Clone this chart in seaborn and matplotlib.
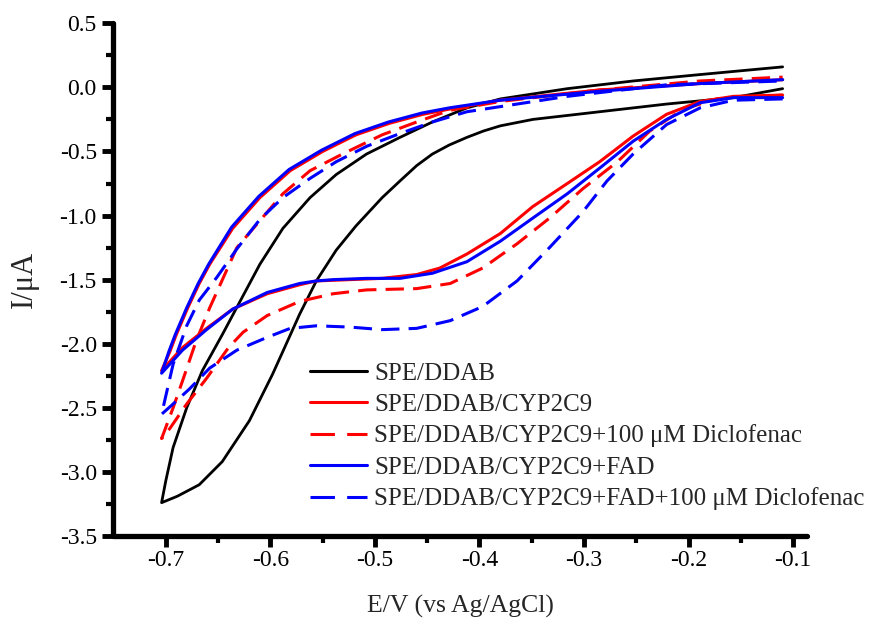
import matplotlib
matplotlib.use("Agg")
import matplotlib.pyplot as plt
from matplotlib.lines import Line2D
import seaborn as sns

# ---------------- data ----------------
labels = ["SPE/DDAB",
          "SPE/DDAB/CYP2C9",
          "SPE/DDAB/CYP2C9+100 \u03bcM Diclofenac",
          "SPE/DDAB/CYP2C9+FAD",
          "SPE/DDAB/CYP2C9+FAD+100 \u03bcM Diclofenac"]

E_ddab = [-0.110, -0.157, -0.221, -0.285, -0.349, -0.380, -0.396, -0.412, -0.429, -0.445,
          -0.460, -0.476, -0.493, -0.518, -0.537, -0.556, -0.572, -0.588, -0.598, -0.620,
          -0.646, -0.668, -0.689, -0.704,
          -0.700, -0.693, -0.680, -0.665, -0.646, -0.629, -0.610, -0.588, -0.562, -0.537,
          -0.508, -0.476, -0.445, -0.412, -0.380, -0.316, -0.253, -0.189, -0.110]
I_ddab = [-0.01, -0.08, -0.13, -0.19, -0.25, -0.30, -0.34, -0.39, -0.45, -0.52,
          -0.61, -0.73, -0.86, -1.08, -1.27, -1.51, -1.77, -2.06, -2.24, -2.60,
          -2.92, -3.10, -3.19, -3.24,
          -3.07, -2.81, -2.50, -2.21, -1.93, -1.67, -1.38, -1.10, -0.86, -0.68,
          -0.52, -0.39, -0.27, -0.16, -0.09, -0.01, 0.05, 0.10, 0.16]

E_cyp = [-0.110, -0.157, -0.189, -0.221, -0.253, -0.285, -0.316, -0.349, -0.380, -0.412,
         -0.438, -0.460, -0.493, -0.524, -0.556, -0.572, -0.603, -0.636, -0.661, -0.684,
         -0.704,
         -0.696, -0.690, -0.679, -0.668, -0.658, -0.636, -0.610, -0.581, -0.550, -0.518,
         -0.486, -0.454, -0.429, -0.380, -0.285, -0.189, -0.110]
I_cyp = [-0.06, -0.07, -0.11, -0.21, -0.38, -0.58, -0.75, -0.93, -1.14, -1.30,
         -1.41, -1.46, -1.49, -1.50, -1.51, -1.54, -1.61, -1.73, -1.88, -2.03,
         -2.21,
         -2.06, -1.93, -1.72, -1.53, -1.38, -1.10, -0.86, -0.65, -0.50, -0.37,
         -0.28, -0.21, -0.17, -0.10, -0.02, 0.03, 0.06]

E_cyp_dic = [-0.110, -0.173, -0.205, -0.237, -0.268, -0.301, -0.333, -0.364, -0.397, -0.428,
             -0.460, -0.508, -0.540, -0.572, -0.603, -0.626, -0.640, -0.661, -0.680, -0.696,
             -0.704,
             -0.693, -0.684, -0.671, -0.658, -0.632, -0.610, -0.588, -0.562, -0.531, -0.493,
             -0.460, -0.429, -0.380, -0.285, -0.189, -0.110]
I_cyp_dic = [-0.06, -0.09, -0.17, -0.34, -0.58, -0.79, -1.02, -1.22, -1.41, -1.53,
             -1.57, -1.58, -1.61, -1.67, -1.78, -1.91, -2.03, -2.27, -2.47, -2.66,
             -2.74,
             -2.50, -2.29, -1.98, -1.72, -1.25, -1.04, -0.83, -0.65, -0.52, -0.37,
             -0.27, -0.18, -0.11, -0.02, 0.05, 0.08]

E_fad = [-0.110, -0.157, -0.189, -0.221, -0.253, -0.285, -0.316, -0.349, -0.380, -0.412,
         -0.445, -0.476, -0.508, -0.540, -0.556, -0.572, -0.603, -0.636, -0.661, -0.684,
         -0.704,
         -0.697, -0.691, -0.680, -0.669, -0.659, -0.637, -0.611, -0.582, -0.551, -0.519,
         -0.487, -0.455, -0.429, -0.380, -0.285, -0.189, -0.110]
I_fad = [-0.08, -0.08, -0.12, -0.25, -0.42, -0.63, -0.83, -1.02, -1.20, -1.36,
         -1.45, -1.49, -1.49, -1.50, -1.51, -1.53, -1.60, -1.73, -1.89, -2.05,
         -2.23,
         -2.06, -1.93, -1.72, -1.53, -1.38, -1.09, -0.85, -0.64, -0.49, -0.36,
         -0.27, -0.20, -0.16, -0.10, -0.03, 0.03, 0.06]

E_fad_dic = [-0.110, -0.157, -0.189, -0.221, -0.253, -0.278, -0.301, -0.333, -0.364, -0.397,
             -0.428, -0.460, -0.493, -0.524, -0.556, -0.581, -0.603, -0.632, -0.658, -0.677,
             -0.693, -0.704,
             -0.693, -0.680, -0.668, -0.651, -0.632, -0.610, -0.588, -0.562, -0.537, -0.508,
             -0.476, -0.445, -0.412, -0.316, -0.221, -0.110]
I_fad_dic = [-0.09, -0.10, -0.16, -0.29, -0.52, -0.73, -0.97, -1.25, -1.51, -1.71,
             -1.82, -1.88, -1.89, -1.87, -1.86, -1.88, -1.95, -2.05, -2.19, -2.35,
             -2.47, -2.55,
             -2.16, -1.86, -1.66, -1.48, -1.26, -1.03, -0.86, -0.71, -0.58, -0.46,
             -0.36, -0.27, -0.19, -0.07, 0.02, 0.05]

x_ticks = [-0.7, -0.6, -0.5, -0.4, -0.3, -0.2, -0.1]
y_ticks = [0.5, 0.0, -0.5, -1.0, -1.5, -2.0, -2.5, -3.0, -3.5]

# ---------------- style ----------------
sns.set_theme(style="ticks")
plt.rcParams["font.family"] = ["Liberation Serif", "DejaVu Serif"]
plt.rcParams["axes.unicode_minus"] = False

W, H = 870, 619
fig = plt.figure(figsize=(W / 100, H / 100), dpi=100)
ax = fig.add_axes([113.5 / W, (H - 536) / H, (807 - 113.5) / W, (536 - 23.3) / H])

dash = (0, (6, 3))
series = [
    (E_ddab, I_ddab, "black", "-", 2.0),
    (E_cyp, I_cyp, "#ff0000", "-", 2.2),
    (E_cyp_dic, I_cyp_dic, "#ff0000", dash, 2.2),
    (E_fad, I_fad, "#0000ff", "-", 2.2),
    (E_fad_dic, I_fad_dic, "#0000ff", dash, 2.2),
]
for E, I, c, ls, lw in series:
    sns.lineplot(x=E, y=I, sort=False, estimator=None, color=c,
                 linestyle=ls, linewidth=lw, ax=ax, legend=False)

ax.set_xlim(-0.75, -0.0867)
ax.set_ylim(-3.5, 0.5)
ax.set_xticks(x_ticks)
ax.set_xticklabels([f"{v:.1f}" for v in x_ticks])
ax.set_yticks(y_ticks)
ax.set_yticklabels([f"{v:.1f}" for v in y_ticks])
ax.set_xticks([-0.65, -0.55, -0.45, -0.35, -0.25, -0.15], minor=True)
ax.set_yticks([0.25, -0.25, -0.75, -1.25, -1.75, -2.25, -2.75, -3.25], minor=True)

for s in ["top", "right"]:
    ax.spines[s].set_visible(False)
for s in ["left", "bottom"]:
    ax.spines[s].set_linewidth(3.8)
    ax.spines[s].set_color("black")
    ax.spines[s].set_capstyle("round")
ax.tick_params(which="major", direction="out", length=8, width=3.5,
               labelsize=17, colors="black")
ax.tick_params(which="minor", direction="out", length=5, width=3.0, colors="black")
ax.tick_params(axis="x", which="major", pad=2)
ax.tick_params(axis="y", which="major", pad=4)
ax.grid(False)

ax.set_xlabel("E/V (vs Ag/AgCl)", fontsize=18.5, labelpad=17)
ax.set_ylabel("I/\u03bcA", fontsize=22, labelpad=15)

handles = [
    Line2D([], [], color="black", lw=2.2),
    Line2D([], [], color="#ff0000", lw=2.2),
    Line2D([], [], color="#ff0000", lw=2.2, linestyle=(0, (8, 4))),
    Line2D([], [], color="#0000ff", lw=2.2),
    Line2D([], [], color="#0000ff", lw=2.2, linestyle=(0, (8, 4))),
]
ax.legend(handles, labels, loc="upper left",
          bbox_to_anchor=(310 / W, 1 - 362 / H), bbox_transform=fig.transFigure,
          frameon=False, fontsize=18, handlelength=2.3, handletextpad=0.28,
          labelspacing=0.35, borderpad=0, borderaxespad=0)

fig.savefig("out.png", dpi=100, facecolor="white")
